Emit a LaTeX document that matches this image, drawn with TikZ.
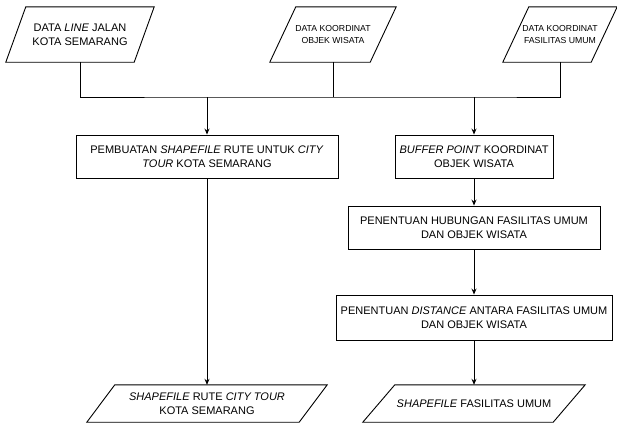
\documentclass[tikz,border=0pt]{standalone}
\usepackage{fontspec}
\setmainfont{Liberation Sans}
\usetikzlibrary{arrows.meta}
\newcommand\drawpara[2]{%
  \draw[ln] ([xshift=#2pt]#1.north west) -- ([xshift=#2pt]#1.north east) --
    ([xshift=-#2pt]#1.south east) -- ([xshift=-#2pt]#1.south west) -- cycle;}
\begin{document}
\begin{tikzpicture}[x=1pt,y=-1pt,
  ln/.style={line width=0.9pt, black},
  arr/.style={ln, -{Stealth[length=6pt,width=5pt]}},
  proc/.style={ln, draw, inner sep=0pt, align=center, font=\fontsize{11}{14}\selectfont},
  iobig/.style={inner sep=0pt, align=center, font=\fontsize{11}{14}\selectfont},
  iosmall/.style={inner sep=0pt, align=center, font=\fontsize{8.7}{12.5}\selectfont}]
\useasboundingbox (0,0) rectangle (617,423);
% inputs
\node[iobig, minimum width=128pt, minimum height=55pt] (p1) at (80,34.5) {DATA \textit{LINE} JALAN\\KOTA SEMARANG};
\node[iosmall, minimum width=100pt, minimum height=55pt] (p2) at (333,34.5) {DATA KOORDINAT\\OBJEK WISATA};
\node[iosmall, minimum width=88pt, minimum height=55pt] (p3) at (560,34.5) {DATA KOORDINAT\\FASILITAS UMUM};
\drawpara{p1}{10}
\drawpara{p2}{13}
\drawpara{p3}{13}
% processes
\node[proc, minimum width=262pt, minimum height=43pt] (b1) at (207,156.5) {PEMBUATAN \textit{SHAPEFILE} RUTE UNTUK \textit{CITY}\\\textit{TOUR} KOTA SEMARANG};
\node[proc, minimum width=158pt, minimum height=43pt] (b2) at (474,156.5) {\textit{BUFFER POINT} KOORDINAT\\OBJEK WISATA};
\node[proc, minimum width=252pt, minimum height=43pt] (b3) at (474,227.5) {PENENTUAN HUBUNGAN FASILITAS UMUM\\DAN OBJEK WISATA};
\node[proc, minimum width=276pt, minimum height=45pt] (b4) at (474,317.5) {PENENTUAN \textit{DISTANCE} ANTARA FASILITAS UMUM\\DAN OBJEK WISATA};
% outputs
\node[iobig, minimum width=212pt, minimum height=37pt] (p5) at (207,403.5) {\textit{SHAPEFILE} RUTE \textit{CITY TOUR}\\KOTA SEMARANG};
\node[iobig, minimum width=190pt, minimum height=37pt] (p6) at (474,403.5) {\textit{SHAPEFILE} FASILITAS UMUM};
\drawpara{p5}{14}
\drawpara{p6}{16}
% bus
\coordinate (j1) at (207,97);
\coordinate (j2) at (474,97);
\draw[ln] (p1.south) |- (j1) -- (j2) -| (p3.south);
\draw[ln] (p2.south) -- (p2.south |- j1);
% arrows
\draw[arr] (j1) -- (b1.north);
\draw[arr] (j2) -- (b2.north);
\draw[arr] (b1.south) -- (p5.north);
\draw[arr] (b2.south) -- (b3.north);
\draw[arr] (b3.south) -- (b4.north);
\draw[arr] (b4.south) -- (p6.north);
\end{tikzpicture}
\end{document}
